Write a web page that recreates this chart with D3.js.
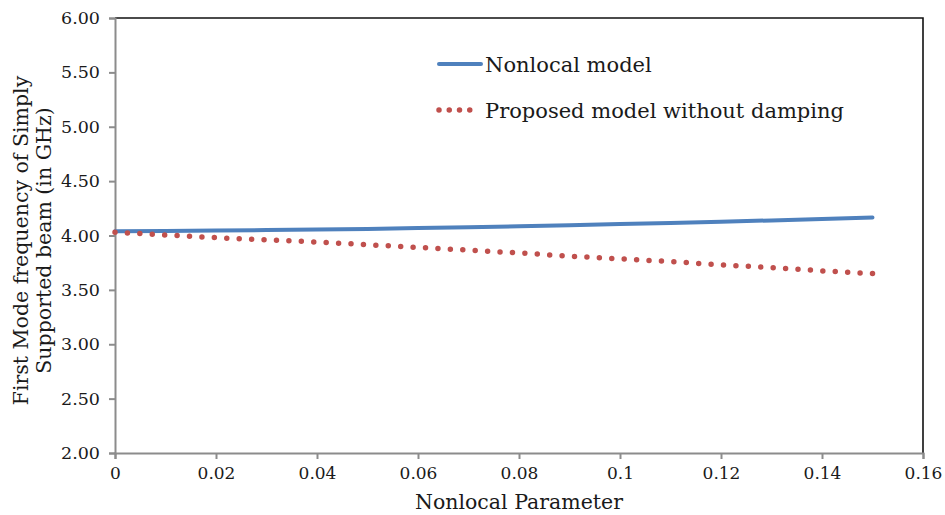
<!DOCTYPE html>
<html>
<head>
<meta charset="utf-8">
<script src="https://cdn.jsdelivr.net/npm/d3@7"></script>
<style>
  html, body { margin: 0; padding: 0; background: #fff; }
  svg { display: block; }
  text { font-family: "DejaVu Serif", "Liberation Serif", serif; fill: #1a1a1a; }
</style>
</head>
<body>
<svg id="chart" width="945" height="515"></svg>
<script>
// Nonlocal parameter values (x)
const nonlocalParam = [0, 0.01, 0.02, 0.03, 0.04, 0.05, 0.06, 0.07, 0.08, 0.09, 0.10, 0.11, 0.12, 0.13, 0.14, 0.15];
// First mode frequency (GHz), nonlocal model
const nonlocalModel = [4.040, 4.042, 4.045, 4.050, 4.055, 4.060, 4.068, 4.076, 4.085, 4.095, 4.105, 4.116, 4.127, 4.139, 4.152, 4.165];
// First mode frequency (GHz), proposed model without damping
const proposedModel = [4.030, 4.005, 3.980, 3.960, 3.940, 3.915, 3.890, 3.865, 3.840, 3.810, 3.785, 3.760, 3.730, 3.705, 3.675, 3.650];

const xTicks = [0, 0.02, 0.04, 0.06, 0.08, 0.1, 0.12, 0.14, 0.16];
const xTickLabels = ["0", "0.02", "0.04", "0.06", "0.08", "0.1", "0.12", "0.14", "0.16"];
const yTicks = [2.0, 2.5, 3.0, 3.5, 4.0, 4.5, 5.0, 5.5, 6.0];
const yTickLabels = ["2.00", "2.50", "3.00", "3.50", "4.00", "4.50", "5.00", "5.50", "6.00"];

const seriesNames = ["Nonlocal model", "Proposed model without damping"];
const xTitle = "Nonlocal Parameter";
const yTitleLines = ["First Mode frequency of Simply", "Supported beam (in GHz)"];

const FONT = "DejaVu Serif, Liberation Serif, serif";
const svg = d3.select("#chart");
const plot = { left: 115, right: 923, top: 18, bottom: 453 };

const x = d3.scaleLinear().domain([0, 0.16]).range([plot.left, plot.right]);
const y = d3.scaleLinear().domain([2, 6]).range([plot.bottom, plot.top]);

const axisGrey = "#8c8c8c";

// frame: top and right edges
svg.append("path")
  .attr("d", `M${plot.left},${plot.top}H${plot.right}V${plot.bottom}`)
  .attr("fill", "none").attr("stroke", "#111").attr("stroke-width", 1.6);

// y axis
const yAxis = svg.append("g")
  .attr("transform", `translate(${plot.left},0)`)
  .call(d3.axisLeft(y).tickValues(yTicks).tickFormat((d, i) => yTickLabels[i]).tickSize(6).tickPadding(9));
yAxis.attr("font-family", FONT);
yAxis.select(".domain").attr("stroke", axisGrey).attr("stroke-width", 2);
yAxis.selectAll(".tick line").attr("stroke", axisGrey).attr("stroke-width", 2);
yAxis.selectAll(".tick text").attr("font-size", 17.5).attr("fill", "#1a1a1a");

// x axis
const xAxis = svg.append("g")
  .attr("transform", `translate(0,${plot.bottom})`)
  .call(d3.axisBottom(x).tickValues(xTicks).tickFormat((d, i) => xTickLabels[i]).tickSize(6).tickPadding(8));
xAxis.attr("font-family", FONT);
xAxis.select(".domain").attr("stroke", axisGrey).attr("stroke-width", 2);
xAxis.selectAll(".tick line").attr("stroke", axisGrey).attr("stroke-width", 2);
xAxis.selectAll(".tick text").attr("font-size", 17).attr("fill", "#1a1a1a");

// series lines
const line = (vals) => d3.line()
  .x((d, i) => x(nonlocalParam[i]))
  .y(d => y(d))(vals);

svg.append("path")
  .attr("d", line(nonlocalModel))
  .attr("fill", "none").attr("stroke", "#4F81BD")
  .attr("stroke-width", 4).attr("stroke-linecap", "round");

// round-dot line; gap adjusted so the last dot lands on the final point
const dotted = svg.append("path")
  .attr("d", line(proposedModel))
  .attr("fill", "none").attr("stroke", "#C0504D")
  .attr("stroke-width", 5.5).attr("stroke-linecap", "round");
const len = dotted.node().getTotalLength();
const gap = len / Math.round(len / 12.45);
dotted.attr("stroke-dasharray", `0,${gap}`);

// legend
const legend = svg.append("g");
legend.append("line")
  .attr("x1", 439).attr("x2", 481).attr("y1", 64).attr("y2", 64)
  .attr("stroke", "#4F81BD").attr("stroke-width", 4).attr("stroke-linecap", "round");
legend.append("line")
  .attr("x1", 439).attr("x2", 480).attr("y1", 110).attr("y2", 110)
  .attr("stroke", "#C0504D").attr("stroke-width", 5.5).attr("stroke-linecap", "round")
  .attr("stroke-dasharray", `0,${41 / 4}`);
legend.selectAll("text.lg").data(seriesNames).join("text")
  .attr("class", "lg")
  .attr("x", 485).attr("y", (d, i) => 72 + i * 46)
  .attr("font-size", 21)
  .text(d => d);

// axis titles
svg.append("text")
  .attr("x", (plot.left + plot.right) / 2).attr("y", 509)
  .attr("text-anchor", "middle").attr("font-size", 20.5)
  .text(xTitle);

svg.append("g")
  .attr("transform", `translate(0,${(plot.top + plot.bottom) / 2 + 5}) rotate(-90)`)
  .selectAll("text").data(yTitleLines).join("text")
  .attr("x", 0).attr("y", (d, i) => 28 + i * 23)
  .attr("text-anchor", "middle").attr("font-size", 20.5)
  .text(d => d);
</script>
</body>
</html>
